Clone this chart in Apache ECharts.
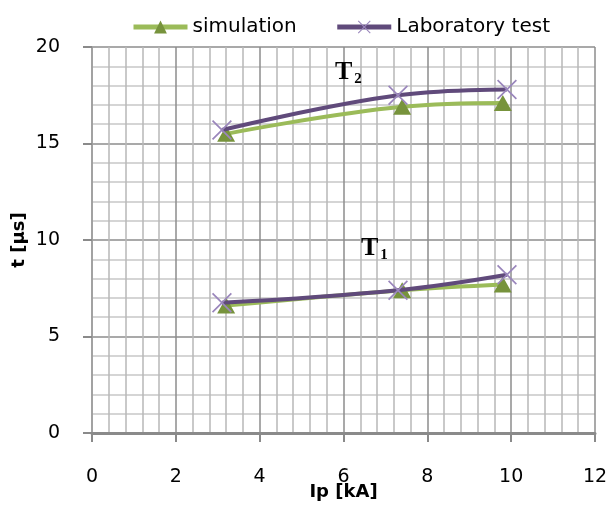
<!DOCTYPE html>
<html>
<head>
<meta charset="utf-8">
<script src="https://cdn.jsdelivr.net/npm/echarts@6/dist/echarts.min.js"></script>
<style>
html,body{margin:0;padding:0;background:#fff;}
#chart{width:608px;height:507px;}
</style>
</head>
<body>
<div id="chart"></div>
<script>
// Data
var ipSim = [3.2, 7.4, 9.8];
var t2Sim = [15.5, 16.9, 17.1];
var t1Sim = [6.6, 7.4, 7.7];
var ipLab = [3.1, 7.3, 9.9];
var t2Lab = [15.7, 17.5, 17.8];
var t1Lab = [6.75, 7.4, 8.2];
var seriesNames = ['simulation', 'Laboratory test'];

function pairs(xs, ys) { return xs.map(function (x, i) { return [x, ys[i]]; }); }

var crossPath = 'path://M0,1.2L1.2,0L10,8.8L18.8,0L20,1.2L11.2,10L20,18.8L18.8,20L10,11.2L1.2,20L0,18.8L8.8,10Z';
var greenLine = '#9BBB59', greenMark = '#77933C';
var purpleLine = '#604A7B', purpleMark = '#9A86BC';

function simSeries(data) {
  return {
    name: seriesNames[0], type: 'line', data: data, smooth: 0.4,
    symbol: 'triangle', symbolSize: [18, 16], z: 3,
    lineStyle: { color: greenLine, width: 4 },
    itemStyle: { color: greenMark }
  };
}
function labSeries(data) {
  return {
    name: seriesNames[1], type: 'line', data: data, smooth: 0.4,
    symbol: crossPath, symbolSize: 20, z: 4,
    lineStyle: { color: purpleLine, width: 4 },
    itemStyle: { color: purpleMark }
  };
}

var chart = echarts.init(document.getElementById('chart'), null, { renderer: 'canvas' });
var tickFont = { fontFamily: 'DejaVu Sans', fontSize: 19, color: '#000' };
var option = {
  backgroundColor: '#fff',
  animation: false,
  grid: { left: 92, right: 13, top: 47, bottom: 74, containLabel: false, outerBoundsMode: 'none' },
  legend: {
    data: seriesNames,
    left: 126, top: 12,
    itemWidth: 54, itemHeight: 16, itemGap: 38,
    lineStyle: { width: 5 },
    textStyle: { fontFamily: 'DejaVu Sans', fontSize: 20, color: '#000' }
  },
  xAxis: {
    type: 'value', min: 0, max: 12, interval: 2,
    name: 'Ip [kA]', nameLocation: 'middle', nameGap: 50, nameMoveOverlap: false,
    nameTextStyle: { fontFamily: 'DejaVu Sans', fontWeight: 'bold', fontSize: 18, color: '#000' },
    axisLine: { show: true, lineStyle: { color: '#8a8a8a', width: 3 } },
    axisTick: { show: true, length: 9, lineStyle: { color: '#8a8a8a', width: 2 } },
    axisLabel: Object.assign({ margin: 35 }, tickFont),
    splitLine: { show: true, lineStyle: { color: '#8c8c8c', width: 1.5 } },
    minorTick: { show: false, splitNumber: 5 },
    minorSplitLine: { show: true, lineStyle: { color: '#b8b8b8', width: 1.5 } }
  },
  yAxis: {
    type: 'value', min: 0, max: 20, interval: 5,
    name: 't [µs]', nameLocation: 'middle', nameGap: 64, nameRotate: 90, nameMoveOverlap: false,
    nameTextStyle: { fontFamily: 'DejaVu Sans', fontWeight: 'bold', fontSize: 18, color: '#000' },
    axisLine: { show: true, lineStyle: { color: '#a0a0a0', width: 1.5 } },
    axisTick: { show: true, length: 9, lineStyle: { color: '#8a8a8a', width: 2 } },
    axisLabel: Object.assign({ margin: 32 }, tickFont),
    splitLine: { show: true, lineStyle: { color: '#8c8c8c', width: 1.5 } },
    minorTick: { show: false, splitNumber: 5 },
    minorSplitLine: { show: true, lineStyle: { color: '#c8c8c8', width: 1.5 } }
  },
  graphic: [
    {
      type: 'text', left: 335, top: 59, z: 10,
      style: {
        text: '{t|T}{s|2}',
        rich: {
          t: { fontFamily: 'Liberation Serif', fontWeight: 'bold', fontSize: 26, fill: '#000' },
          s: { fontFamily: 'Liberation Serif', fontWeight: 'bold', fontSize: 15, fill: '#000', padding: [14, 0, 0, 2] }
        }
      }
    },
    {
      type: 'text', left: 361, top: 235, z: 10,
      style: {
        text: '{t|T}{s|1}',
        rich: {
          t: { fontFamily: 'Liberation Serif', fontWeight: 'bold', fontSize: 26, fill: '#000' },
          s: { fontFamily: 'Liberation Serif', fontWeight: 'bold', fontSize: 15, fill: '#000', padding: [14, 0, 0, 2] }
        }
      }
    }
  ],
  series: [
    simSeries(pairs(ipSim, t2Sim)),
    simSeries(pairs(ipSim, t1Sim)),
    labSeries(pairs(ipLab, t2Lab)),
    labSeries(pairs(ipLab, t1Lab))
  ]
};
chart.setOption(option);
</script>
</body>
</html>
